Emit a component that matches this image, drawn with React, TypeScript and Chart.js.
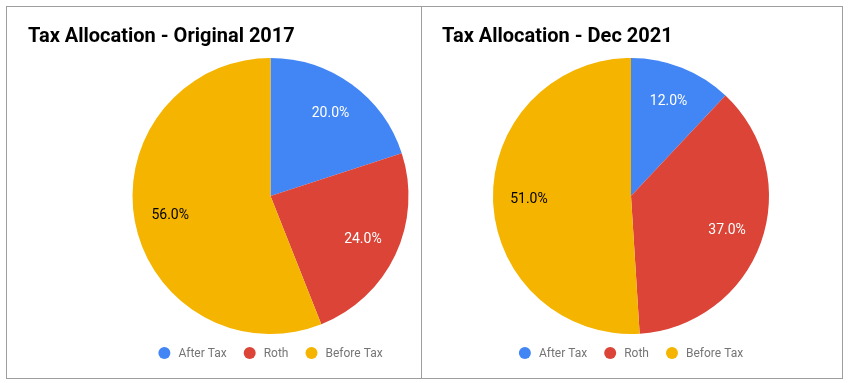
import React, { useEffect, useRef } from "react";
import { Chart, registerables } from "chart.js";

Chart.register(...registerables);

const categories = ["After Tax", "Roth", "Before Tax"];
const original2017Values = [20, 24, 56];
const dec2021Values = [12, 37, 51];
const titles = ["Tax Allocation - Original 2017", "Tax Allocation - Dec 2021"];

const sliceColors = ["#4285F4", "#DB4437", "#F4B400"];
const sliceLabelColors = ["#ffffff", "#ffffff", "#000000"];
const FONT = "Roboto, 'Noto Sans', Arial, sans-serif";

type PanelProps = {
  title: string;
  values: number[];
  width: number;
  height: number;
  titleX: number;
  padLeft: number;
  padRight: number;
};

function makePlugin(title: string, titleX: number) {
  return {
    id: "customDecor",
    afterDatasetsDraw(chart: any) {
      const ctx = chart.ctx;
      const meta = chart.getDatasetMeta(0);
      const data = chart.data.datasets[0].data as number[];
      const total = data.reduce((a: number, b: number) => a + b, 0);
      ctx.save();
      ctx.font = `14px ${FONT}`;
      ctx.textAlign = "center";
      ctx.textBaseline = "middle";
      meta.data.forEach((arc: any, i: number) => {
        const p = arc.getProps(["x", "y", "startAngle", "endAngle", "outerRadius"], true);
        const mid = (p.startAngle + p.endAngle) / 2;
        const r = p.outerRadius * 0.74;
        const tx = p.x + Math.cos(mid) * r;
        const ty = p.y + Math.sin(mid) * r;
        ctx.fillStyle = sliceLabelColors[i];
        ctx.fillText(((data[i] / total) * 100).toFixed(1) + "%", tx, ty);
      });
      ctx.restore();
    },
    afterDraw(chart: any) {
      const ctx = chart.ctx;
      ctx.save();
      // title
      ctx.font = `bold 20px ${FONT}`;
      ctx.fillStyle = "#000000";
      ctx.textAlign = "left";
      ctx.textBaseline = "alphabetic";
      ctx.fillText(title, titleX, 35);
      // legend
      ctx.font = `12px ${FONT}`;
      const labels: string[] = chart.data.labels;
      const colors: string[] = chart.data.datasets[0].backgroundColor;
      const dot = 12;
      const gapText = 8;
      const gapItem = 17;
      const widths = labels.map((l) => dot + gapText + ctx.measureText(l).width);
      const totalW = widths.reduce((a, b) => a + b, 0) + gapItem * (labels.length - 1);
      const area = chart.chartArea;
      const cx = (area.left + area.right) / 2;
      let x = cx - totalW / 2;
      const y = 346;
      ctx.textBaseline = "middle";
      labels.forEach((l, i) => {
        ctx.fillStyle = colors[i];
        ctx.beginPath();
        ctx.arc(x + dot / 2, y, dot / 2, 0, Math.PI * 2);
        ctx.fill();
        ctx.fillStyle = "#757575";
        ctx.fillText(l, x + dot + gapText, y + 0.5);
        x += widths[i] + gapItem;
      });
      ctx.restore();
    },
  };
}

function PiePanel({ title, values, width, height, titleX, padLeft, padRight }: PanelProps) {
  const ref = useRef<HTMLCanvasElement | null>(null);
  useEffect(() => {
    if (!ref.current) return;
    const chart = new Chart(ref.current, {
      type: "pie",
      data: {
        labels: categories,
        datasets: [
          {
            data: values,
            backgroundColor: sliceColors,
            borderWidth: 0,
          },
        ],
      },
      options: {
        responsive: false,
        animation: false,
        devicePixelRatio: 1,
        layout: { padding: { top: 51, bottom: 44, left: padLeft, right: padRight } },
        plugins: {
          legend: { display: false },
          title: { display: false },
          tooltip: { enabled: false },
        },
      },
      plugins: [makePlugin(title, titleX)],
    });
    return () => chart.destroy();
  }, []);
  return <canvas ref={ref} width={width} height={height} style={{ display: "block", width, height }} />;
}

export default function App() {
  return (
    <div style={{ position: "absolute", left: 6, top: 6, display: "flex", background: "#ffffff" }}>
      <div style={{ border: "1px solid #9e9e9e", width: 414, height: 371 }}>
        <PiePanel title={titles[0]} values={original2017Values} width={414} height={371} titleX={21} padLeft={113} padRight={0} />
      </div>
      <div style={{ borderTop: "1px solid #9e9e9e", borderRight: "1px solid #9e9e9e", borderBottom: "1px solid #9e9e9e", width: 420, height: 371 }}>
        <PiePanel title={titles[1]} values={dec2021Values} width={420} height={371} titleX={20} padLeft={0} padRight={2} />
      </div>
    </div>
  );
}
